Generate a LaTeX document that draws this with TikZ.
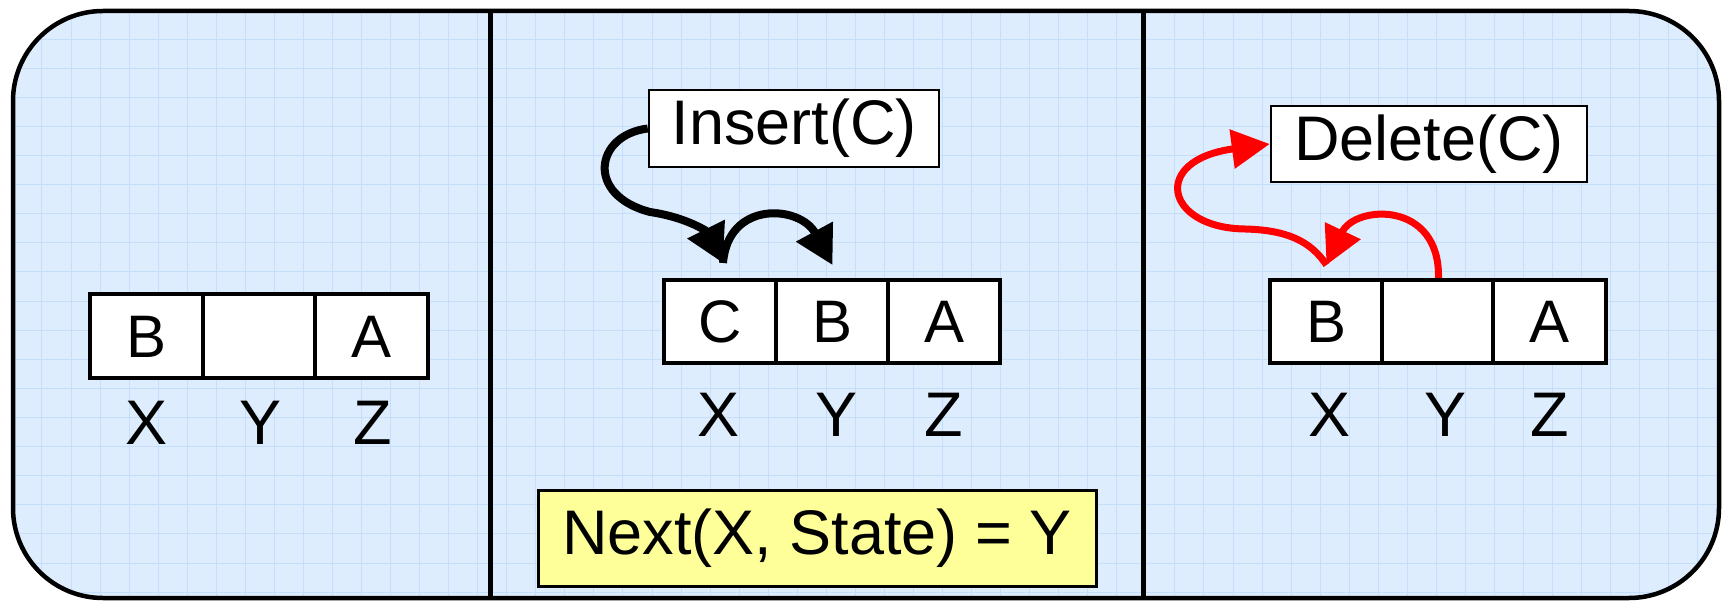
\documentclass[tikz,border=0pt]{standalone}
\usepackage{fontspec}
\setmainfont{Liberation Sans}
\usetikzlibrary{arrows.meta}

\definecolor{paper}{RGB}{222,237,253}
\definecolor{gridblue}{RGB}{196,222,252}
\definecolor{noteyellow}{RGB}{255,255,153}
\definecolor{arrred}{RGB}{255,0,0}

\tikzset{
  cellbox/.style={draw=black, line width=4pt, fill=white, minimum width=112.5pt,
    minimum height=84pt, inner sep=0pt, font=\fontsize{60}{60}\selectfont},
  lbl/.style={inner sep=0pt, font=\fontsize{63}{63}\selectfont},
  opbox/.style={draw=black, line width=2.5pt, fill=white, inner sep=0pt,
    font=\fontsize{63}{63}\selectfont},
  gridline/.style={draw=gridblue, line width=0.8pt},
  panelline/.style={draw=black, line width=5pt},
  blkarrow/.style={draw=black, line width=8pt, -{Triangle[length=38pt,width=40pt]}},
  redarrow/.style={draw=arrred, line width=7pt, -{Triangle[length=38pt,width=38pt]}}
}

\begin{document}
\begin{tikzpicture}[x=1pt, y=-1pt]
\useasboundingbox (0,0) rectangle (1722,601);

% background frame with the squared paper
\fill[paper, rounded corners=90pt] (13,11) rectangle (1719,598);
\begin{scope}
  \clip[rounded corners=90pt] (13,11) rectangle (1719,598);
  \foreach \i in {0,...,59} {\draw[gridline] ({12.8+29.05*\i},0) -- ({12.8+29.05*\i},601);}
  \foreach \j in {0,...,20} {\draw[gridline] (0,{10+29.1*\j}) -- (1722,{10+29.1*\j});}
\end{scope}
\draw[panelline] (490,11) -- (490,598);
\draw[panelline] (1143,11) -- (1143,598);
\draw[line width=4.5pt, rounded corners=90pt] (13,11) rectangle (1719,598);

% ---- left panel: initial state ----
\node[cellbox] (l1) at (146.5,336.5) {B};
\node[cellbox] (l2) at (259,336.5) {};
\node[cellbox] (l3) at (371.5,336.5) {A};
\node[lbl] (lx) at (147,423) {X};
\node[lbl] (ly) at (261,423) {Y};
\node[lbl] (lz) at (373,423) {Z};

% ---- middle panel: insertion ----
\node[cellbox, minimum height=83pt] (c1) at (720,321.5) {C};
\node[cellbox, minimum height=83pt] (c2) at (832.5,321.5) {B};
\node[cellbox, minimum height=83pt] (c3) at (944,321.5) {A};
\node[lbl] (cx) at (719,415) {X};
\node[lbl] (cy) at (837,415) {Y};
\node[lbl] (cz) at (944,415) {Z};
\node[opbox, minimum width=290pt, minimum height=77pt] (ins) at (794,128.5) {Insert(C)};
\node[draw=black, line width=3pt, fill=noteyellow, inner sep=0pt,
      minimum width=558pt, minimum height=96pt, font=\fontsize{63}{63}\selectfont]
      (nxt) at (817,538) {Next(X, State) = Y};

\coordinate (cin) at ([shift={(3,-15)}]c1.north);
\coordinate (cnext) at ([shift={(0,-13)}]c2.north);
\draw[blkarrow] (ins.west) .. controls (595,135) and (585,195) .. (650,212)
  .. controls (690,218) and (708,233) .. (cin);
\draw[blkarrow] (cin) .. controls (728,200) and (800,205) .. (cnext);

% ---- right panel: deletion ----
\node[cellbox, minimum height=83pt] (r1) at (1326.5,321.5) {B};
\node[cellbox, minimum height=83pt] (r2) at (1438.5,321.5) {};
\node[cellbox, minimum height=83pt] (r3) at (1549.5,321.5) {A};
\node[lbl] (rx) at (1329,415) {X};
\node[lbl] (ry) at (1445,415) {Y};
\node[lbl] (rz) at (1550,415) {Z};
\node[opbox, minimum width=316pt, minimum height=76pt] (del) at (1429,144) {Delete(C)};

\coordinate (rin) at ([shift={(0,-13)}]r1.north);
\draw[redarrow] (r2.north) .. controls (1440,200) and (1355,205) .. (rin);
\draw[redarrow] (rin) .. controls (1310,240) and (1285,230) .. (1245,229)
  .. controls (1165,228) and (1150,160) .. (del.west);
\end{tikzpicture}
\end{document}
